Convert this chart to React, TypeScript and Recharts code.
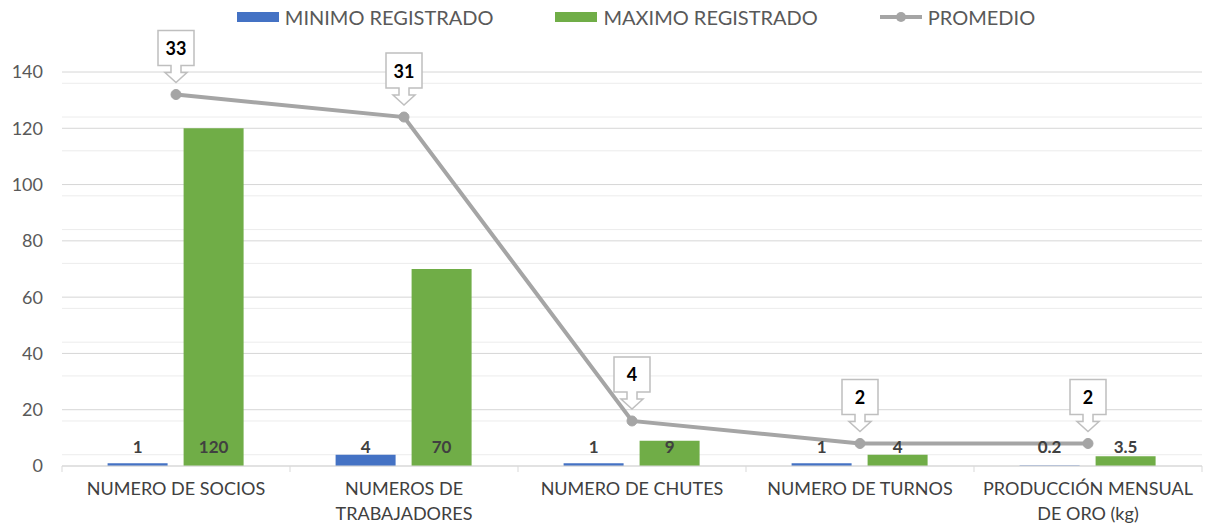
import React from "react";
import {
  ComposedChart,
  Bar,
  Line,
  XAxis,
  YAxis,
  CartesianGrid,
  Legend,
} from "recharts";

const categories = [
  "NUMERO DE SOCIOS",
  "NUMEROS DE\nTRABAJADORES",
  "NUMERO DE CHUTES",
  "NUMERO DE TURNOS",
  "PRODUCCIÓN MENSUAL\nDE ORO (kg)",
];
const minimo = [1, 4, 1, 1, 0.2];
const maximo = [120, 70, 9, 4, 3.5];
const promedio = [33, 31, 4, 2, 2];

const yTicks = [0, 20, 40, 60, 80, 100, 120, 140];
const minorGrid = [4, 8, 12, 16, 24, 28, 32, 36, 44, 48, 52, 56, 64, 68, 72, 76, 84, 88, 92, 96, 104, 108, 112, 116, 124, 128, 132, 136];

const data = categories.map((name, i) => ({
  name,
  min: minimo[i],
  max: maximo[i],
  avg: promedio[i],
}));

const FONT = "Lato, 'Open Sans', sans-serif";
const BLUE = "#4472C4";
const GREEN = "#70AD47";
const GRAY = "#A5A5A5";

const CategoryTick = (props: any) => {
  const { x, y, payload, index } = props;
  const lines = String(payload.value).split("\n");
  const half = payload.offset || 0;
  return (
    <g>
      <line x1={x - half} x2={x - half} y1={y - 8} y2={y - 2} stroke="#d9d9d9" />
      {index === categories.length - 1 && (
        <line x1={x + half} x2={x + half} y1={y - 8} y2={y - 2} stroke="#d9d9d9" />
      )}
      <text x={x} y={y} textAnchor="middle" fill="#404040" fontSize={18} fontFamily={FONT}>
        {lines.map((l, i) => (
          <tspan key={i} x={x} dy={i === 0 ? 21 : 25}>
            {l}
          </tspan>
        ))}
      </text>
    </g>
  );
};

const BaseLabel = (props: any) => {
  const { x, y, width, height, value } = props;
  const base = y + height;
  return (
    <text
      x={x + width / 2}
      y={base - 20}
      textAnchor="middle"
      dominantBaseline="central"
      fill="#404040"
      fontSize={17}
      fontWeight="bold"
      fontFamily={FONT}
    >
      {value}
    </text>
  );
};

const Callout = (props: any) => {
  const { x, y, value } = props;
  const top = y - 64;
  const boxB = y - 29;
  const path = [
    `M${x - 18},${top}`,
    `L${x + 18},${top}`,
    `L${x + 18},${boxB}`,
    `L${x + 5},${boxB}`,
    `L${x + 5},${y - 22}`,
    `L${x + 11},${y - 22}`,
    `L${x},${y - 12}`,
    `L${x - 11},${y - 22}`,
    `L${x - 5},${y - 22}`,
    `L${x - 5},${boxB}`,
    `L${x - 18},${boxB}`,
    "Z",
  ].join(" ");
  return (
    <g>
      <path d={path} fill="#fff" stroke="#bfbfbf" strokeWidth={1.5} />
      <text
        x={x}
        y={(top + boxB) / 2}
        textAnchor="middle"
        dominantBaseline="central"
        fill="#000"
        fontSize={18}
        fontWeight="bold"
        fontFamily={FONT}
      >
        {value}
      </text>
    </g>
  );
};

const legendItems = [
  { label: "MINIMO REGISTRADO", color: BLUE, kind: "rect" },
  { label: "MAXIMO REGISTRADO", color: GREEN, kind: "rect" },
  { label: "PROMEDIO", color: GRAY, kind: "line" },
];

const LegendContent = () => (
  <div
    style={{
      display: "flex",
      justifyContent: "center",
      gap: 62,
      fontFamily: FONT,
      fontSize: 20,
      color: "#595959",
      paddingLeft: 63,
    }}
  >
    {legendItems.map((it) => (
      <div key={it.label} style={{ display: "flex", alignItems: "center", gap: 6 }}>
        <svg width={42} height={14}>
          {it.kind === "rect" ? (
            <rect x={0} y={2} width={42} height={10} fill={it.color} />
          ) : (
            <g>
              <line x1={0} x2={42} y1={7} y2={7} stroke={it.color} strokeWidth={4} />
              <circle cx={21} cy={7} r={5} fill={it.color} />
            </g>
          )}
        </svg>
        <span>{it.label}</span>
      </div>
    ))}
  </div>
);

export default function App() {
  return (
    <div style={{ position: "absolute", left: 0, top: 0, background: "#fff" }}>
      <ComposedChart
        width={1209}
        height={529}
        data={data}
        margin={{ top: 48, right: 7, bottom: 0, left: 0 }}
        barCategoryGap="20%"
        barGap={16}
      >
        <CartesianGrid
          yAxisId="left"
          vertical={false}
          horizontalValues={minorGrid}
          stroke="#ececec"
        />
        <CartesianGrid
          yAxisId="left"
          vertical={false}
          horizontalValues={yTicks}
          stroke="#d6d6d6"
        />
        <XAxis
          dataKey="name"
          interval={0}
          height={63}
          tickLine={false}
          stroke="#d9d9d9"
          tick={<CategoryTick />}
        />
        <YAxis
          yAxisId="left"
          domain={[0, 140]}
          ticks={yTicks}
          width={62}
          axisLine={false}
          tickLine={false}
          tickSize={0}
          tickMargin={19}
          tick={{ fill: "#595959", fontSize: 18, fontFamily: FONT }}
        />
        <YAxis yAxisId="right" orientation="right" domain={[0, 35]} hide />
        <Legend
          verticalAlign="top"
          content={<LegendContent />}
          wrapperStyle={{ top: 5, left: 0, width: 1209 }}
        />
        <Bar
          yAxisId="left"
          dataKey="min"
          fill={BLUE}
          isAnimationActive={false}
          label={<BaseLabel />}
        />
        <Bar
          yAxisId="left"
          dataKey="max"
          fill={GREEN}
          isAnimationActive={false}
          label={<BaseLabel />}
        />
        <Line
          yAxisId="right"
          dataKey="avg"
          stroke={GRAY}
          strokeWidth={4}
          dot={{ r: 5, fill: GRAY, stroke: GRAY, strokeWidth: 1 }}
          activeDot={false}
          isAnimationActive={false}
          label={<Callout />}
        />
      </ComposedChart>
    </div>
  );
}
